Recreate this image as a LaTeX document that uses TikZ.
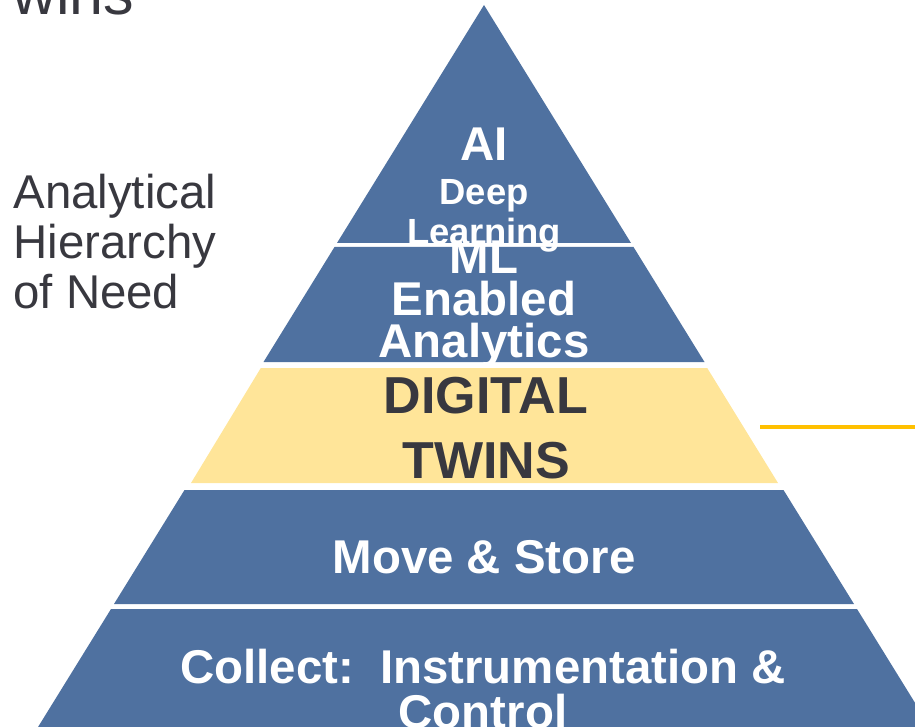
\documentclass[tikz,border=0pt]{standalone}
\usepackage{fontspec}
\setmainfont{Liberation Sans}
\usetikzlibrary{positioning}

\definecolor{layerblue}{HTML}{4F71A0}
\definecolor{layeryellow}{HTML}{FFE599}
\definecolor{linegold}{HTML}{FFC000}
\definecolor{textgray}{HTML}{38383F}

\tikzset{
  layer/.style={fill=layerblue, draw=none},
  twinlayer/.style={fill=layeryellow, draw=none},
  lbl/.style={inner sep=0pt, anchor=base, align=center, text=white, font=\bfseries},
  side/.style={inner sep=0pt, anchor=base west, align=left, text=textgray}
}

\begin{document}
\begin{tikzpicture}[x=0.5pt, y=-0.5pt]
        \useasboundingbox (0,0) rectangle (915,727);
        \clip (0,0) rectangle (915,727);

        % Layers
        \path[layer] (484,5) -- (631,243) -- (337,243) -- cycle;
        \path[layer] (334.5,247) -- (633.5,247) -- (704.5,362) -- (263.5,362) -- cycle;
        \path[twinlayer] (260.8,368) -- (707.2,368) -- (778,483) -- (191,483) -- cycle;
        \path[layer] (184.5,490) -- (783.5,490) -- (854,604) -- (114,604) -- cycle;
        \path[layer] (111,609) -- (857,609) -- (938,740) -- (30,740) -- cycle;

        % Nodes (multi-line nodes sit on their last baseline)
        \node (wins) [side, font=\fontsize{30.5}{34}\selectfont] at (12,15) {wins};
        \node (anal) [side, font=\fontsize{23.7}{25}\selectfont] at (13,308) {Analytical\\Hierarchy\\of Need};
        \node (ai) [lbl, font=\bfseries\fontsize{23.7}{23.7}\selectfont] at (484,161) {AI};
        \node (deep) [lbl, font=\bfseries\fontsize{18.2}{20.5}\selectfont] at (484,245) {Deep\\Learning};
        \node (ml) [lbl, font=\bfseries\fontsize{23.7}{20.8}\selectfont] at (484,357) {ML\\Enabled\\Analytics};
        \node (twins) [lbl, text=textgray, font=\bfseries\fontsize{26}{32.5}\selectfont] at (486,478) {DIGITAL\\TWINS};
        \node (move) [lbl, font=\bfseries\fontsize{23.7}{23.7}\selectfont] at (484,573) {Move \& Store};
        \node (collect) [lbl, font=\bfseries\fontsize{23.7}{22.5}\selectfont] at (483,728) {Collect:\ \ Instrumentation \&\\Control};

        % Edges
        \coordinate (gs) at (760,427);
        \coordinate (ge) at (915,427);
        \draw[linegold, line width=2pt] (gs) -- (ge);
    \end{tikzpicture}
\end{document}
